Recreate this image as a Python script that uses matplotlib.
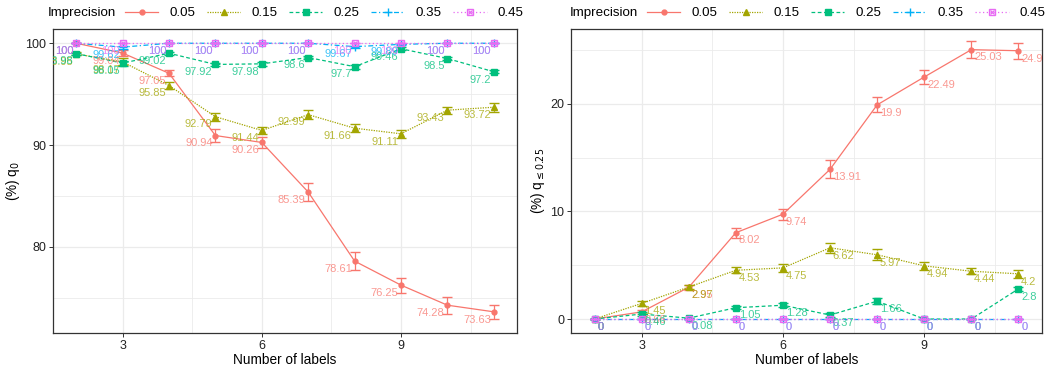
import matplotlib.pyplot as plt
import numpy as np
from matplotlib.legend_handler import HandlerTuple

plt.rcParams['font.family'] = ['Liberation Sans', 'DejaVu Sans']

n_labels = np.arange(2, 12)
levels = ['0.05', '0.15', '0.25', '0.35', '0.45']
colors = ['#F8766D', '#A3A500', '#00BF7D', '#00B0F6', '#E76BF3']

# left panel: (%) q0
q0_005 = [100, 99.04, 97.05, 90.94, 90.26, 85.39, 78.61, 76.25, 74.28, 73.63]
q0_015 = [98.95, 98.17, 95.85, 92.79, 91.44, 92.99, 91.66, 91.11, 93.43, 93.72]
q0_025 = [98.98, 98.05, 99.02, 97.92, 97.98, 98.6, 97.7, 99.46, 98.5, 97.2]
q0_035 = [100, 99.62, 100, 100, 100, 100, 99.67, 99.89, 100, 100]
q0_045 = [100, 100, 100, 100, 100, 100, 100, 100, 100, 100]
q0_err_005 = [0, 0.3, 0.3, 0.6, 0.57, 0.9, 0.85, 0.73, 0.85, 0.7]
q0_err_015 = [0.15, 0.35, 0.3, 0.4, 0.35, 0.45, 0.4, 0.4, 0.35, 0.45]
q0_err_025 = [0.1, 0.25, 0.15, 0.15, 0.2, 0.15, 0.2, 0.15, 0.15, 0.15]
q0_err_035 = [0, 0.15, 0, 0, 0, 0, 0.1, 0.05, 0, 0]
q0_err_045 = [0, 0, 0, 0, 0, 0, 0, 0, 0, 0]

# right panel: (%) q<=0.25
q25_005 = [0, 0.66, 2.95, 8.02, 9.74, 13.91, 19.9, 22.49, 25.03, 24.93]
q25_015 = [0, 1.45, 2.97, 4.53, 4.75, 6.62, 5.97, 4.94, 4.44, 4.2]
q25_025 = [0, 0.46, 0.08, 1.05, 1.28, 0.37, 1.66, 0, 0, 2.8]
q25_035 = [0, 0, 0, 0, 0, 0, 0, 0, 0, 0]
q25_045 = [0, 0, 0, 0, 0, 0, 0, 0, 0, 0]
q25_err_005 = [0, 0.2, 0.25, 0.45, 0.5, 0.85, 0.7, 0.62, 0.8, 0.75]
q25_err_015 = [0, 0.25, 0.2, 0.3, 0.35, 0.45, 0.5, 0.35, 0.3, 0.4]
q25_err_025 = [0, 0.15, 0.05, 0.15, 0.2, 0.15, 0.25, 0, 0, 0.2]
q25_err_035 = [0, 0, 0, 0, 0, 0, 0, 0, 0, 0]
q25_err_045 = [0, 0, 0, 0, 0, 0, 0, 0, 0, 0]

styles = ['-', (0, (1, 1)), (0, (3, 2)), (0, (4, 2, 1, 2)), (0, (1, 2))]
markers = ['o', '^', 's', '+', 's']
msizes = [3.5, 4, 4.5, 6, 4.5]


def draw_panel(ax, series, errs, label_side):
    handles = []
    for i, (vals, err) in enumerate(zip(series, errs)):
        c = colors[i]
        eb = ax.errorbar(n_labels, vals, yerr=err, color=c, linestyle=styles[i],
                         linewidth=0.9, elinewidth=0.9, capsize=3.5, capthick=0.9,
                         marker=markers[i], markersize=msizes[i],
                         markerfacecolor=c if i != 4 else 'none', markeredgewidth=1.0,
                         zorder=3 + i)
        for bl in eb[2]:
            bl.set_linestyle(styles[i])
        h = eb[0]
        if i == 4:
            xm, = ax.plot(n_labels, vals, linestyle='none', marker='x', markersize=3.5,
                          color=c, markeredgewidth=0.9, zorder=3 + i)
            h = (eb[0], xm)
        handles.append(h)
        for x, v in zip(n_labels, vals):
            if label_side == 'left':
                ax.annotate(f'{v:g}', (x, v), xytext=(-2, -2), textcoords='offset points',
                            ha='right', va='top', fontsize=8, color=c, alpha=0.75,
                            annotation_clip=False, clip_on=True, zorder=10)
            else:
                ax.annotate(f'{v:g}', (x, v), xytext=(2, -2), textcoords='offset points',
                            ha='left', va='top', fontsize=8, color=c, alpha=0.75,
                            annotation_clip=False, clip_on=True, zorder=10)
    ax.set_xlim(1.5, 11.5)
    ax.set_xticks([3, 6, 9])
    ax.set_xticks([4.5, 7.5, 10.5], minor=True)
    ax.grid(True, which='major', color='#EBEBEB', linewidth=0.9)
    ax.grid(True, which='minor', color='#EBEBEB', linewidth=0.6)
    ax.set_axisbelow(True)
    for sp in ax.spines.values():
        sp.set_color('#333333')
        sp.set_linewidth(0.9)
    ax.tick_params(which='major', length=3, color='#333333', labelsize=9,
                   labelcolor='#222222', width=0.7, pad=2)
    ax.tick_params(which='minor', length=0)
    ax.set_xlabel('Number of labels', fontsize=9.8, labelpad=1)
    return handles


fig = plt.figure(figsize=(10.59, 3.70), dpi=100)
ax1 = fig.add_axes([53 / 1059, 37 / 370, 464 / 1059, 304 / 370])
ax2 = fig.add_axes([571 / 1059, 37 / 370, 471 / 1059, 304 / 370])

h1 = draw_panel(ax1, [q0_005, q0_015, q0_025, q0_035, q0_045],
                [q0_err_005, q0_err_015, q0_err_025, q0_err_035, q0_err_045], 'left')
ax1.set_ylim(71.55, 101.4)
ax1.set_yticks([80, 90, 100])
ax1.set_yticks([75, 85, 95], minor=True)
ax1.set_ylabel('(%) q$_0$', fontsize=9.8, labelpad=2)

h2 = draw_panel(ax2, [q25_005, q25_015, q25_025, q25_035, q25_045],
                [q25_err_005, q25_err_015, q25_err_025, q25_err_035, q25_err_045], 'right')
ax2.set_ylim(-1.3, 26.95)
ax2.set_yticks([0, 10, 20])
ax2.set_yticks([5, 15, 25], minor=True)
ax2.set_ylabel('(%) q$_{\\leq 0.25}$', fontsize=9.8, labelpad=2)

for ax, h, tx, lx in [(ax1, h1, 48, 125), (ax2, h2, 570, 647)]:
    fig.text(tx / 1059, 1 - 13 / 370, 'Imprecision', fontsize=9.6, va='center', ha='left')
    ax.legend(h, levels, loc='center left', bbox_to_anchor=(lx / 1059, 1 - 13 / 370),
              bbox_transform=fig.transFigure, ncol=5, frameon=False, borderpad=0,
              borderaxespad=0, handlelength=2.5, handletextpad=0.8, columnspacing=0.9,
              fontsize=9.6, handler_map={tuple: HandlerTuple(ndivide=1)})

fig.savefig('out.png', dpi=100)
